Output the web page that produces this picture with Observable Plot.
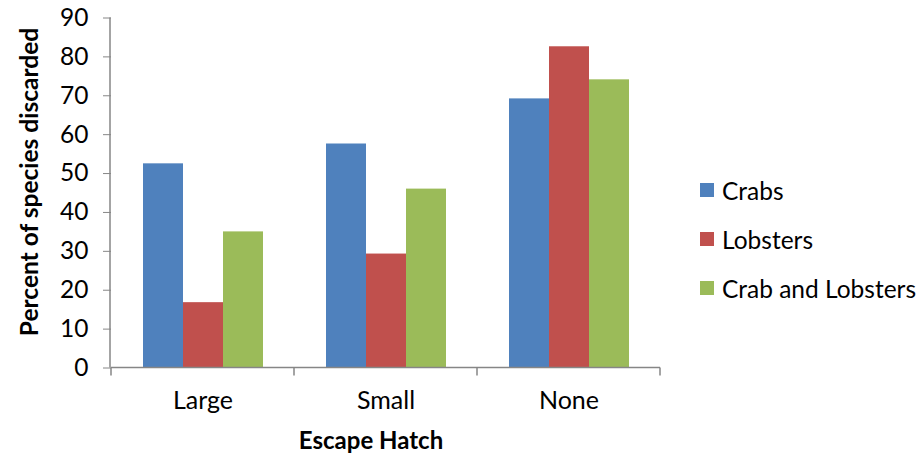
<!DOCTYPE html>
<html>
<head>
<meta charset="utf-8">
<script src="https://cdn.jsdelivr.net/npm/d3@7"></script>
<script src="https://cdn.jsdelivr.net/npm/@observablehq/plot@0.6"></script>
<style>
  html, body { margin: 0; padding: 0; background: #fff; }
  #wrap { position: relative; width: 923px; height: 455px; font-family: Lato, "Open Sans", sans-serif; }
  #legend { position: absolute; left: 700px; top: 177px; font-size: 24.5px; color: #000; }
  #legend .item { display: flex; align-items: center; height: 26px; margin-bottom: 23px; }
  #legend .sw { width: 14px; height: 14px; margin-right: 8px; }
  #xtitle { position: absolute; left: 0; width: 742px; top: 425px; text-align: center; font-weight: bold; font-size: 24px; color: #000; }
</style>
</head>
<body>
<div id="wrap"></div>
<script>
const hatches = ["Large", "Small", "None"];
const seriesNames = ["Crabs", "Lobsters", "Crab and Lobsters"];
const crabs = [52.5, 57.6, 69.2];
const lobsters = [16.8, 29.3, 82.6];
const crabAndLobsters = [35.0, 46.0, 74.1];
const colors = ["#4F81BD", "#C0504D", "#9BBB59"];
const yTicks = [0, 10, 20, 30, 40, 50, 60, 70, 80, 90];

const seriesValues = [crabs, lobsters, crabAndLobsters];
const data = [];
hatches.forEach((h, i) => seriesNames.forEach((s, j) => data.push({hatch: h, series: s, value: seriesValues[j][i]})));

const W = 923, H = 455;
const mL = 110, mR = 263, mT = 17.5, mB = 87.5;

const chart = Plot.plot({
  width: W,
  height: H,
  marginLeft: mL,
  marginRight: mR,
  marginTop: mT,
  marginBottom: mB,
  style: {fontFamily: "Lato, 'Open Sans', sans-serif", fontSize: "23px", color: "#000", background: "#fff"},
  fx: {domain: hatches, paddingInner: 0, paddingOuter: 0, label: null, axis: null},
  x: {domain: seriesNames, paddingInner: 0, paddingOuter: 0.75, axis: null},
  y: {domain: [0, 90], ticks: yTicks, label: null, axis: null},
  color: {domain: seriesNames, range: colors},
  marks: [
    Plot.axisY({ticks: yTicks, tickSize: 8, tickPadding: 15, stroke: "#868686", label: null, fontSize: 24.5}),
    Plot.axisFx({anchor: "bottom", tickSize: 0, tickPadding: 23, label: null, fontSize: 25}),
    Plot.barY(data, {fx: "hatch", x: "series", y: "value", fill: "series", insetLeft: 0, insetRight: 0})
  ]
});
document.getElementById("wrap").appendChild(chart);

// axis lines and category boundary ticks derived from scales
const svg = d3.select(chart);
const fx = chart.scale("fx");
const y = chart.scale("y");
const bw = fx.bandwidth;
const y0 = y.apply(0), yTop = y.apply(90);
const bx = hatches.map(h => fx.apply(h)).concat([fx.apply(hatches[hatches.length - 1]) + bw]);
const g = svg.append("g").attr("stroke", "#868686").attr("stroke-width", 1.5);
g.append("line").attr("x1", mL).attr("x2", mL).attr("y1", yTop).attr("y2", y0);
g.append("line").attr("x1", bx[0]).attr("x2", bx[bx.length - 1]).attr("y1", y0).attr("y2", y0);
bx.forEach(x => g.append("line").attr("x1", x).attr("x2", x).attr("y1", y0).attr("y2", y0 + 8));

// y axis title
svg.append("text")
  .attr("transform", `translate(38,182) rotate(-90)`)
  .attr("text-anchor", "middle")
  .attr("font-weight", "bold")
  .attr("font-size", 24.5)
  .attr("fill", "#000")
  .text("Percent of species discarded");

// x title
const xt = document.createElement("div");
xt.id = "xtitle";
xt.textContent = "Escape Hatch";
document.getElementById("wrap").appendChild(xt);

// legend
const lg = document.createElement("div");
lg.id = "legend";
seriesNames.forEach((s, i) => {
  const it = document.createElement("div");
  it.className = "item";
  const sw = document.createElement("div");
  sw.className = "sw";
  sw.style.background = colors[i];
  const tx = document.createElement("span");
  tx.textContent = s;
  it.appendChild(sw); it.appendChild(tx);
  lg.appendChild(it);
});
document.getElementById("wrap").appendChild(lg);
</script>
</body>
</html>
